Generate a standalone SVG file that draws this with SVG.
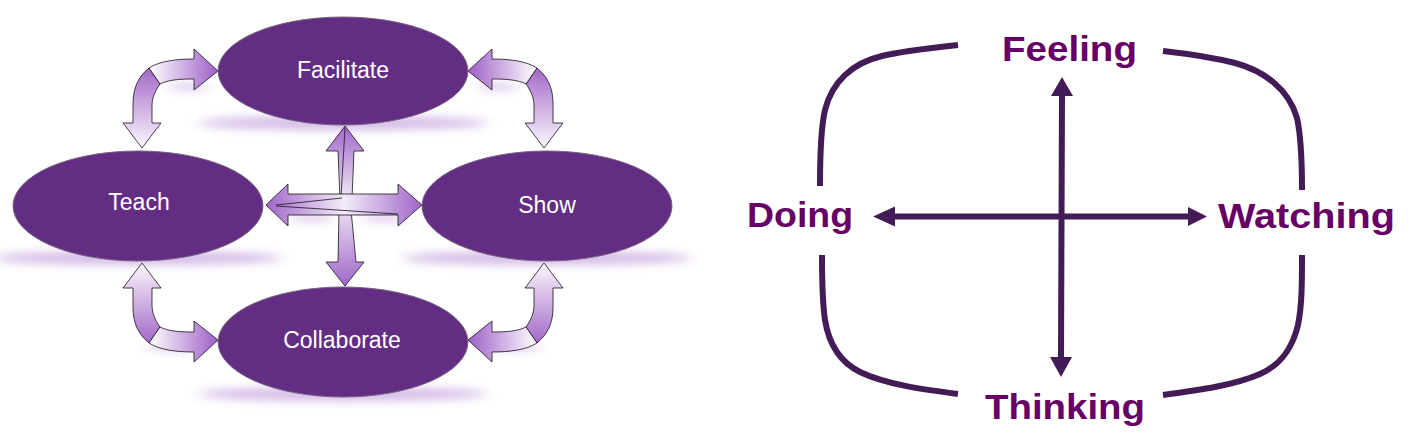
<svg xmlns="http://www.w3.org/2000/svg" xmlns:xlink="http://www.w3.org/1999/xlink" width="1420" height="442" viewBox="0 0 1420 442">
<style>
.node{fill:#642d84;stroke:#75657f;stroke-width:1}
.nlabel{font-family:"Liberation Sans",Arial,sans-serif;font-size:23px;fill:#ffffff;text-anchor:middle}
.glow{fill:#9a5bc4;opacity:0.42;filter:url(#blur)}
.blk{stroke:#1a1020;stroke-width:0.8;stroke-linejoin:miter}
.axis{stroke:#431c57;stroke-width:6;fill:none}
.head{fill:#431c57}
.bracket{stroke:#431c57;stroke-width:6;fill:none;stroke-linecap:butt}
.rlabel{font-family:"Liberation Sans",Arial,sans-serif;font-size:35px;font-weight:bold;fill:#660066}
</style>
<defs>
<filter id="blur" x="-50%" y="-300%" width="200%" height="700%"><feGaussianBlur stdDeviation="7 5"/></filter>
<linearGradient id="gV" gradientUnits="userSpaceOnUse" x1="0" y1="70" x2="0" y2="148">
<stop offset="0" stop-color="#a56bc9"/><stop offset="1" stop-color="#fbf8fd"/>
</linearGradient>
<linearGradient id="gH" gradientUnits="userSpaceOnUse" x1="152" y1="0" x2="218" y2="0">
<stop offset="0" stop-color="#fbf8fd"/><stop offset="1" stop-color="#9e5fc6"/>
</linearGradient>
<linearGradient id="gCV" gradientUnits="userSpaceOnUse" x1="0" y1="126" x2="0" y2="286">
<stop offset="0" stop-color="#a066c8"/><stop offset="0.45" stop-color="#f0e8f6"/><stop offset="0.55" stop-color="#e6d8ef"/><stop offset="1" stop-color="#a066c8"/>
</linearGradient>
<linearGradient id="gCH" gradientUnits="userSpaceOnUse" x1="266" y1="0" x2="422" y2="0">
<stop offset="0" stop-color="#a066c8"/><stop offset="0.5" stop-color="#f3ecf8"/><stop offset="1" stop-color="#a066c8"/>
</linearGradient>
<g id="curved">
<path class="blk" fill="url(#gV)" d="M142,148 L123,123 L133,123 L133,104 C133,88 138,77 149,68 L160,84 C155,91 152,98 152,106 L152,123 L161,123 Z"/>
<path class="blk" fill="url(#gH)" d="M149,68 C160,61 176,59 194,59 L194,49 L218,71 L194,90 L194,79 C178,79 168,80 160,84 Z"/>
</g>
</defs>

<g id="shadows">
<ellipse class="glow" cx="343" cy="123" rx="145" ry="7"/>
<ellipse class="glow" cx="138" cy="258" rx="145" ry="7"/>
<ellipse class="glow" cx="547" cy="258" rx="145" ry="7"/>
<ellipse class="glow" cx="343" cy="394" rx="145" ry="7"/>
<ellipse class="glow" cx="188" cy="87" rx="20" ry="3"/>
<ellipse class="glow" cx="498" cy="87" rx="20" ry="3"/>
<ellipse class="glow" cx="172" cy="347" rx="26" ry="3"/>
<ellipse class="glow" cx="514" cy="347" rx="26" ry="3"/>
<ellipse class="glow" cx="312" cy="218" rx="22" ry="3"/>
<ellipse class="glow" cx="385" cy="218" rx="22" ry="3"/>
</g>

<g id="connectors">
<use xlink:href="#curved"/>
<use xlink:href="#curved" transform="translate(686,0) scale(-1,1)"/>
<use xlink:href="#curved" transform="translate(686,411) scale(-1,-1)"/>
<use xlink:href="#curved" transform="translate(0,411) scale(1,-1)"/>
<path class="blk" fill="url(#gCV)" d="M345,126 L364,151 L354,151 L352,198 L351,210 L356,262 L364,262 L345,286 L326,262 L338,262 L339,210 L340,198 L338,151 L326,151 Z"/>
<path class="blk" fill="none" d="M345,128 L341,197"/>
<path class="blk" fill="url(#gCH)" d="M266,205 L288,184 L288,194 L398,194 L398,184 L422,205 L398,226 L398,215 L288,215 L288,226 Z"/>
<path class="blk" fill="none" d="M276,205 L342,198 M276,206 L398,214"/>
</g>

<g id="facilitate">
<ellipse class="node" cx="343" cy="71" rx="125" ry="54"/>
<text class="nlabel" x="343" y="78">Facilitate</text>
</g>
<g id="teach">
<ellipse class="node" cx="138" cy="206" rx="125" ry="55"/>
<text class="nlabel" x="139" y="210">Teach</text>
</g>
<g id="show">
<ellipse class="node" cx="547" cy="206" rx="125" ry="55"/>
<text class="nlabel" x="547" y="213">Show</text>
</g>
<g id="collaborate">
<ellipse class="node" cx="343" cy="342" rx="125" ry="55"/>
<text class="nlabel" x="342" y="348">Collaborate</text>
</g>

<g id="right-connectors">
<path class="bracket" d="M958,45 C930,48 902,51 882,56 C852,63 832,82 825,110 C821,127 820,150 820,186"/>
<path class="bracket" d="M1163,51 C1190,54 1215,58 1235,63 C1265,71 1289,90 1297,118 C1301,136 1302,160 1302,190"/>
<path class="bracket" d="M822,255 C822,280 822,300 825,320 C829,345 840,362 860,372 C885,384 920,389 958,394"/>
<path class="bracket" d="M1302,255 C1302,283 1302,305 1298,325 C1292,350 1280,365 1260,374 C1235,385 1200,390 1163,395"/>
<line class="axis" x1="1062" y1="92" x2="1061" y2="360"/>
<polygon class="head" points="1062,77 1051,96 1073,96"/>
<polygon class="head" points="1061,377 1050,357 1072,357"/>
<line class="axis" x1="892" y1="216.5" x2="1190" y2="216.5"/>
<polygon class="head" points="873,216.5 895,206.5 895,226.5"/>
<polygon class="head" points="1207,216.5 1188,207 1188,226"/>
</g>

<g id="feeling"><text class="rlabel" x="1002" y="61" textLength="135" lengthAdjust="spacingAndGlyphs">Feeling</text></g>
<g id="doing"><text class="rlabel" x="747" y="227" textLength="106" lengthAdjust="spacingAndGlyphs">Doing</text></g>
<g id="watching"><text class="rlabel" x="1218" y="228" textLength="177" lengthAdjust="spacingAndGlyphs">Watching</text></g>
<g id="thinking"><text class="rlabel" x="985" y="419" textLength="160" lengthAdjust="spacingAndGlyphs">Thinking</text></g>
</svg>
